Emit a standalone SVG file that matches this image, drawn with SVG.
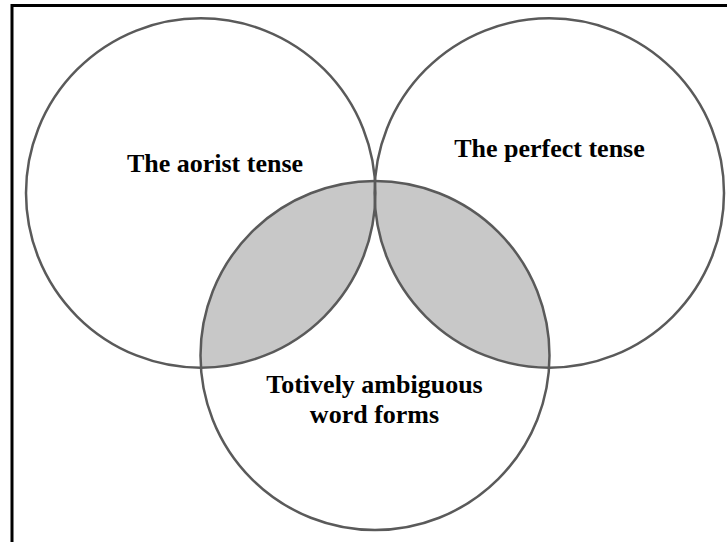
<svg xmlns="http://www.w3.org/2000/svg" width="727" height="542" viewBox="0 0 727 542">
<style>
.c{fill:none;stroke:#5a5a5a;stroke-width:2.5}
.s{fill:#c8c8c8;stroke:none}
.t{font-family:"Liberation Serif","Times New Roman",serif;font-weight:bold;font-size:26px;fill:#000;text-anchor:middle}
</style>
<defs>
<clipPath id="clipB"><circle cx="375" cy="355.5" r="174.5"/></clipPath>
</defs>
<rect width="727" height="542" fill="#fff"/>
<path d="M12,542 V5.5 H727" fill="none" stroke="#000" stroke-width="3"/>
<g id="shading" clip-path="url(#clipB)">
<circle class="s" cx="200.7" cy="193" r="174.7"/>
<circle class="s" cx="549.3" cy="193" r="174.7"/>
</g>
<g id="aorist">
<circle class="c" cx="200.7" cy="193" r="174.7"/>
<text class="t" x="215" y="172">The aorist tense</text>
</g>
<g id="perfect">
<circle class="c" cx="549.3" cy="193" r="174.7"/>
<text class="t" x="549.5" y="157">The perfect tense</text>
</g>
<g id="ambiguous">
<circle class="c" cx="375" cy="355.5" r="174.5"/>
<text class="t" x="374.5" y="393">Totively ambiguous</text>
<text class="t" x="374.5" y="423">word forms</text>
</g>
<g id="connectors"/>
</svg>
